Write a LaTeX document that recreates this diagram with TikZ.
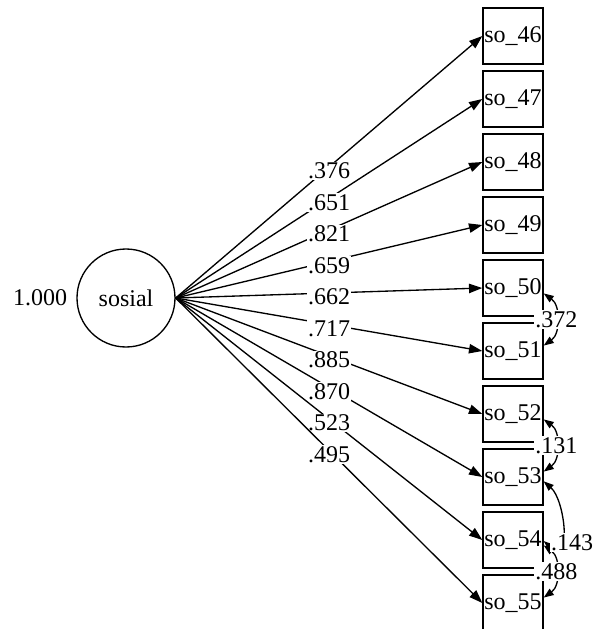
\documentclass[tikz,border=0pt]{standalone}
\usepackage{fontspec}
\setmainfont{Liberation Serif}
\usetikzlibrary{arrows.meta}
\begin{document}
\begin{tikzpicture}[x=0.75pt,y=-0.75pt,font=\fontsize{18}{20}\selectfont,
    var/.style={draw,line width=1pt,minimum width=45pt,minimum height=42pt,inner sep=0pt},
    lbl/.style={fill=white,inner sep=1pt},
    load/.style={line width=1pt,-{Triangle[length=10pt,width=7pt]}},
    cov/.style={line width=1pt,{Triangle[length=7.5pt,width=5.5pt]}-{Triangle[length=7.5pt,width=5.5pt]}}]
    \useasboundingbox (0,0) rectangle (602,629);
    \node[draw,circle,line width=1pt,minimum size=73.5pt,inner sep=0pt] (sosial) at (126,298) {sosial};
    \node (sosialvar) at (40,298) {1.000};
    % observed items
    \foreach \n [count=\i from 0] in {46,...,55} { \node[var] (so\n) at (513,36+63*\i) {so\_\n}; }
    \foreach \n/\w in {46/.376,47/.651,48/.821,49/.659,50/.662,51/.717,52/.885,53/.870,54/.523,55/.495} {
        \draw[load] (sosial.east) -- node[lbl,yshift=-3pt] {\w} (so\n.west);
    }
    % error covariances
    \foreach \a/\b/\w in {50/51/.372,52/53/.131,54/55/.488} {
        \draw[cov] (so\a.-10) .. controls +(17,12) and +(17,-12) .. node[lbl] {\w} (so\b.10);
    }
    \draw[cov] (so53.-8) .. controls (565,500) and (572,565) .. node[lbl,pos=0.7,xshift=9pt] {.143} (so54.-2);
\end{tikzpicture}
\end{document}
